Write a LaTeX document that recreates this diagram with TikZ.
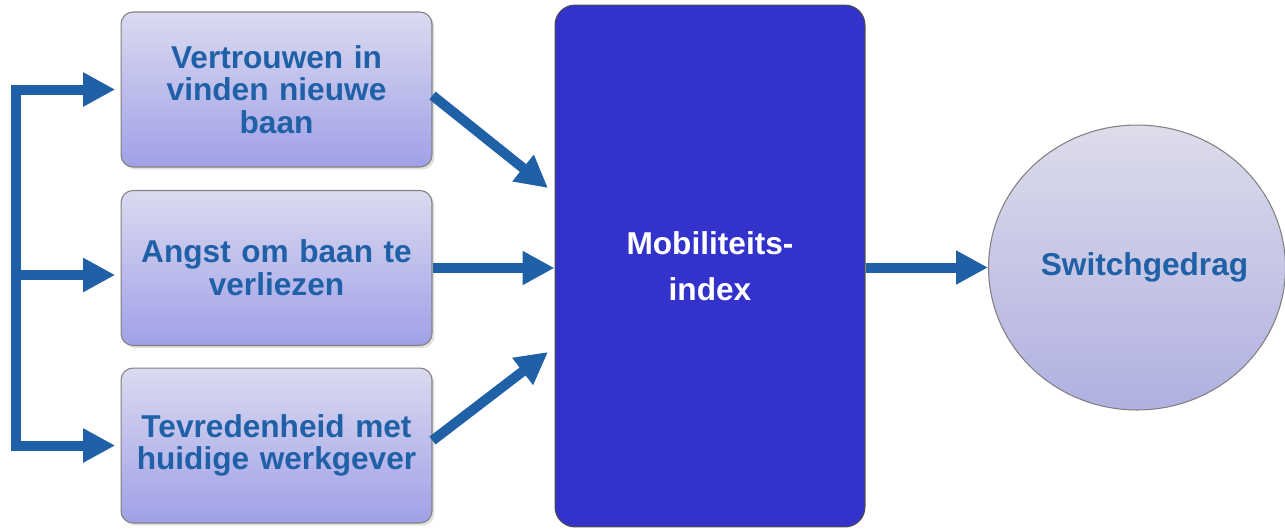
\documentclass[tikz,border=0pt]{standalone}
\usepackage{fontspec}
\setmainfont{Liberation Sans}
\usetikzlibrary{arrows.meta,shapes.geometric,shadows}

\definecolor{arrowblue}{RGB}{31,96,167}
\definecolor{boxtop}{RGB}{218,218,240}
\definecolor{boxbot}{RGB}{160,160,232}
\definecolor{circtop}{RGB}{220,220,234}
\definecolor{circbot}{RGB}{176,176,226}
\definecolor{indexblue}{RGB}{51,51,204}

\tikzset{
  factor/.style={rectangle,rounded corners=0.24cm,draw=gray,line width=0.6pt,
    top color=boxtop,bottom color=boxbot,minimum width=6.22cm,minimum height=3.1cm,
    align=center,text width=5.9cm,text=arrowblue,
    font=\bfseries\fontsize{18}{18.6}\selectfont,
    drop shadow={opacity=0.25,shadow xshift=0.05cm,shadow yshift=-0.05cm}},
  flow/.style={draw=arrowblue,line width=0.2cm,-{Triangle[length=0.64cm,width=0.64cm]}},
}

\begin{document}
\begin{tikzpicture}[x=0.02cm,y=-0.02cm]
\useasboundingbox (0,0) rectangle (1285,529);

\node[factor] (vertrouwen) at (276.5,89.5) {Vertrouwen in\\vinden nieuwe\\baan};
\node[factor] (angst) at (276.5,268) {Angst om baan te\\verliezen};
\node[factor] (tevreden) at (276.5,445.5) {Tevredenheid met\\huidige werkgever};

\node[rectangle,rounded corners=0.4cm,draw=black!70,line width=0.6pt,fill=indexblue,
  minimum width=6.2cm,minimum height=10.44cm,align=center,text=white,
  font=\bfseries\fontsize{18}{26}\selectfont] (index) at (710,266) {Mobiliteits-\\index};

\node[ellipse,draw=gray,line width=0.6pt,top color=circtop,bottom color=circbot,
  inner sep=0pt,minimum width=5.94cm,minimum height=5.7cm,text=arrowblue,
  font=\bfseries\fontsize{18}{22}\selectfont] (switch) at (1137,267.5)
  {\makebox[0pt][c]{\hspace{0.3cm}\raisebox{-0.08cm}{Switchgedrag}}};

% feedback bracket on the left
\coordinate (top) at (16,89.5);
\coordinate (mid) at (16,275);
\coordinate (bot) at (16,445.5);
\draw[flow,shorten >=3pt] (bot) -- (top) -- (vertrouwen.west);
\draw[flow,shorten >=3pt] (top) -- (bot) -- (tevreden.west);
\draw[flow,shorten >=3pt] (mid) -- (mid -| angst.west);

% into the index
\coordinate (in1) at (548,188);
\coordinate (in3) at (548,352);
\draw[flow] ([yshift=-0.12cm]vertrouwen.east) -- (in1);
\draw[flow] (angst.east) -- (angst.east -| index.west);
\draw[flow] ([yshift=0.1cm]tevreden.east) -- (in3);

\draw[flow] (index.east |- switch.west) -- (switch.west);
\end{tikzpicture}
\end{document}
